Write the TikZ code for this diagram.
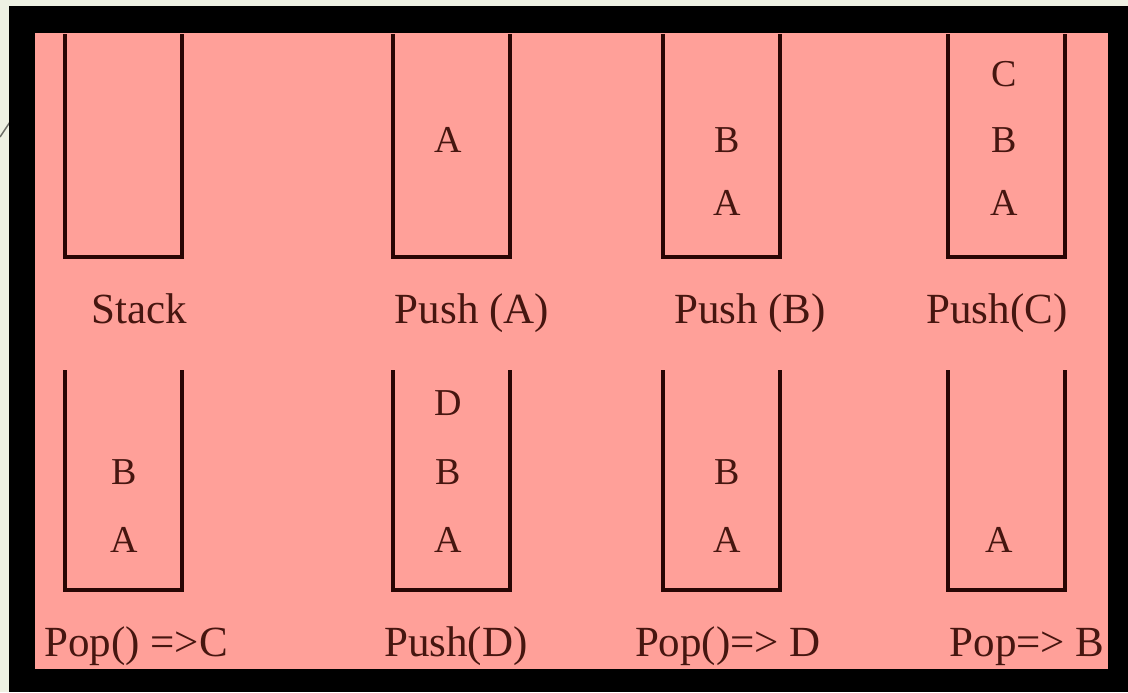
\documentclass[tikz,border=0pt]{standalone}
\usepackage{fontspec}
\setmainfont{Liberation Serif}
\usepackage{xcolor}
\usepackage{tikz}

\definecolor{pagecream}{RGB}{238,241,227}
\definecolor{slidepink}{RGB}{255,160,153}
\definecolor{inkbrown}{RGB}{40,6,4}
\definecolor{textbrown}{RGB}{70,22,16}

\begin{document}
\begin{tikzpicture}[
    x=0.5pt, y=-0.5pt,
    cup/.style={draw=inkbrown, line width=2.3pt, line join=miter},
    item/.style={
        font=\fontsize{19}{19}\selectfont,
        text=textbrown,
        inner sep=0pt
    },
    caption/.style={
        font=\fontsize{21.5}{22}\selectfont,
        text=textbrown,
        anchor=base,
        inner sep=0pt
    }
]

% page, frame and slide
\useasboundingbox (0,0) rectangle (1128,692);
\fill[pagecream] (0,0) rectangle (1128,692);
\draw[draw=black!55!pagecream, line width=0.7pt] (0,137) -- (14,116);
\fill[black] (9,6) rectangle (1128,692);
\fill[slidepink] (35,33) rectangle (1108,669);

% the eight stacks
\foreach \cx in {65,393,663,948} {
    \draw[cup] (\cx,34) -- (\cx,257) -- (\cx+117,257) -- (\cx+117,34);
    \draw[cup] (\cx,370) -- (\cx,590) -- (\cx+117,590) -- (\cx+117,370);
}

% top row contents
\node[item] (pushA-a) at (448,140) {A};
\node[item] (pushB-b) at (727,140) {B};
\node[item] (pushB-a) at (727,203) {A};
\node[item] (pushC-c) at (1004,74) {C};
\node[item] (pushC-b) at (1004,140) {B};
\node[item] (pushC-a) at (1004,203) {A};

% bottom row contents
\node[item] (popC-b) at (124,472) {B};
\node[item] (popC-a) at (124,540) {A};
\node[item] (pushD-d) at (448,403) {D};
\node[item] (pushD-b) at (448,472) {B};
\node[item] (pushD-a) at (448,540) {A};
\node[item] (popD-b) at (727,472) {B};
\node[item] (popD-a) at (727,540) {A};
\node[item] (popB-a) at (999,540) {A};

% captions
\node[caption] (stack) at (139,323) {Stack};
\node[caption] (pushA) at (472,323) {Push (A)};
\node[caption] (pushB) at (750,323) {Push (B)};
\node[caption] (pushC) at (997,323) {Push(C)};
\node[caption] (popC) at (136,656) {Pop() =>C};
\node[caption] (pushD) at (456,656) {Push(D)};
\node[caption] (popD) at (728,656) {Pop()=> D};
\node[caption] (popB) at (1027,656) {Pop=> B};

\end{tikzpicture}
\end{document}
